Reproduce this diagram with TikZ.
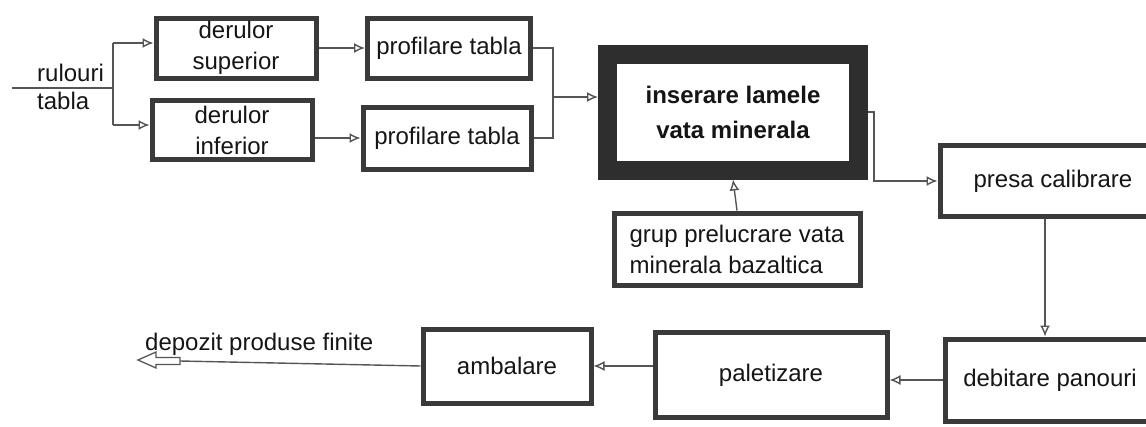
\documentclass[tikz,border=0pt]{standalone}
\usepackage{fontspec}
\setmainfont{Liberation Sans}
\usetikzlibrary{arrows.meta}
\definecolor{boxc}{HTML}{3A3A3A}
\definecolor{linec}{HTML}{555555}
\definecolor{txtc}{HTML}{151515}
\tikzset{
  x=1pt, y=-1pt,
  box/.style={draw=boxc, line width=5pt, fill=white, inner sep=0pt, align=center,
    text=txtc, font=\fontsize{24}{31}\selectfont},
  bigbox/.style={box, draw=black!82, line width=19pt, font=\bfseries\fontsize{24}{35}\selectfont},
  conn/.style={draw=linec, line width=1.4pt},
  arr/.style={conn, -{Latex[open,length=11pt,width=10pt]}},
  lbl/.style={inner sep=0pt, text=txtc, font=\fontsize{24}{28}\selectfont, align=left}
}
\begin{document}
\begin{tikzpicture}
\useasboundingbox (0,0) rectangle (1146,426);
% boxes
\node[box, minimum width=160, minimum height=60] (dsup) at (236,48) {derulor\\superior};
\node[box, minimum width=160, minimum height=59] (dinf) at (232,130) {derulor\\inferior};
\node[box, minimum width=163, minimum height=60] (ptop) at (449,48) {profilare tabla};
\node[box, minimum width=168, minimum height=62] (pbot) at (447,138) {profilare tabla};
\node[bigbox, minimum width=251, minimum height=116] (ins) at (733,112) {inserare lamele\\vata minerala};
\node[box, minimum width=226, minimum height=71] (presa) at (1053,181) {presa calibrare};
\node[box, minimum width=246, minimum height=72, align=left] (grup) at (737,249) {grup prelucrare vata\\minerala bazaltica};
\node[box, minimum width=210, minimum height=82] (deb) at (1050,380) {debitare panouri};
\node[box, minimum width=232, minimum height=85] (pal) at (771,375) {paletizare};
\node[box, minimum width=168, minimum height=74] (amb) at (507,366) {ambalare};
% labels
\node[lbl, anchor=north west] (rul) at (37,64) {rulouri\\tabla};
\node[lbl, anchor=base west] (dep) at (145,350) {depozit produse finite};
% input
\coordinate (in) at (12,88);
\coordinate (sp) at (113,88);
\coordinate (spt) at (113,43);
\coordinate (spb) at (113,125);
\draw[conn] (in) -- (sp);
\draw[conn] (spt) -- (spb);
\draw[arr] (spt) -- (spt -| dsup.west);
\draw[arr] (spb) -- (spb -| dinf.west);
% derulor -> profilare
\draw[arr] (dsup.east) -- (ptop.west);
\draw[arr] (pbot.west -| dinf.east) -- (pbot.west);
% profilare -> inserare
\coordinate (j1) at (553,97);
\draw[conn] (ptop.east) -| (j1) |- (pbot.east);
\draw[arr] (j1) -- (j1 -| ins.west);
% inserare -> presa
\draw[arr] (ins.east) -- ++(6,0) |- (presa.west);
% grup -> inserare
\draw[arr] (grup.north) -- (ins.south);
% presa -> debitare
\coordinate (vx) at (1045,0);
\draw[arr] (vx |- presa.south) -- (vx |- deb.north);
% debitare -> paletizare
\draw[arr] (deb.west) -- (deb.west -| pal.east);
% paletizare -> ambalare
\draw[arr] (amb.east -| pal.west) -- (amb.east);
% ambalare -> depozit
\coordinate (de) at (180,361);
\draw[conn] (amb.west) -- (de);
\draw[draw=linec, line width=1.3pt, fill=white, line join=miter]
  (138,360) -- (156,352) -- (156,357.5) -- (180,357.5) -- (180,364.5) -- (156,364.5) -- (156,368) -- cycle;
\end{tikzpicture}
\end{document}
